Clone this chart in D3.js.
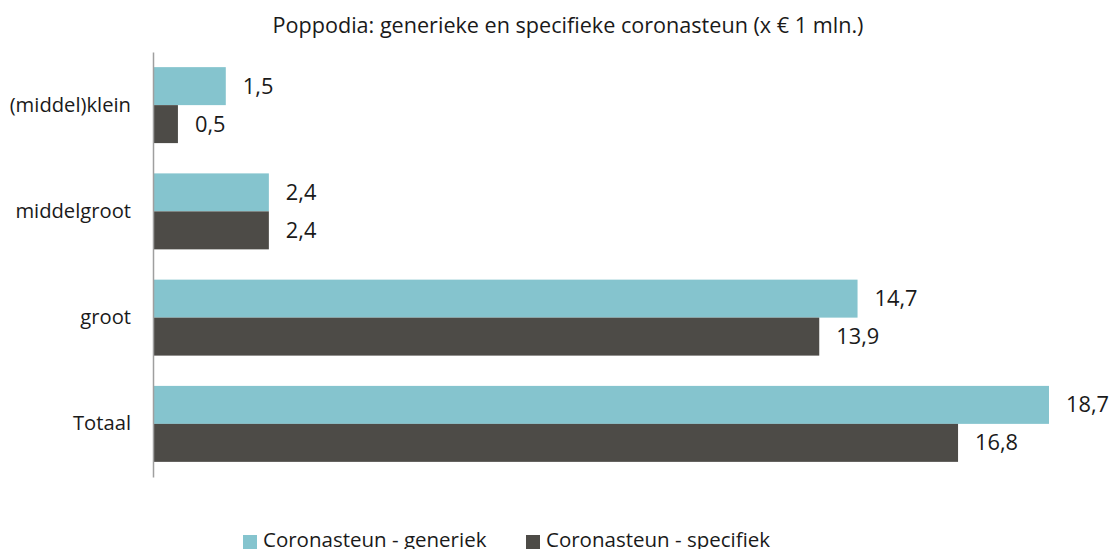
<!DOCTYPE html>
<html>
<head>
<meta charset="utf-8">
<script src="https://cdn.jsdelivr.net/npm/d3@7"></script>
<style>
  html, body { margin: 0; padding: 0; background: #fff; }
  svg { display: block; font-family: "Open Sans", Lato, sans-serif; }
</style>
</head>
<body>
<svg id="chart" width="1110" height="549"></svg>
<script>
const categories = ["(middel)klein", "middelgroot", "groot", "Totaal"];
const seriesNames = ["Coronasteun - generiek", "Coronasteun - specifiek"];
const generiek = [1.5, 2.4, 14.7, 18.7];
const specifiek = [0.5, 2.4, 13.9, 16.8];
const seriesColors = ["#85C4CE", "#4D4B47"];
const title = "Poppodia: generieke en specifieke coronasteun (x € 1 mln.)";

const FONT = "\"Open Sans\", Lato, sans-serif";
const TEXT = "#1a1a1a";

const svg = d3.select("#chart");
const fmt = v => d3.format(".1f")(v).replace(".", ",");

const x = d3.scaleLinear().domain([0, 20]).range([154, 154 + 47.86 * 20]);
const y = d3.scaleBand().domain(categories).range([52, 477]).paddingInner(0.285).paddingOuter(0.1425);
const inner = d3.scaleBand().domain([0, 1]).range([0, y.bandwidth()]);

const rows = categories.map((c, i) => ({ cat: c, vals: [generiek[i], specifiek[i]] }));

svg.append("text")
  .attr("x", 568).attr("y", 33)
  .attr("text-anchor", "middle")
  .attr("font-size", 21.6)
  .attr("fill", TEXT)
  .text(title);

const groups = svg.selectAll("g.row").data(rows).join("g")
  .attr("class", "row")
  .attr("transform", d => `translate(0,${y(d.cat)})`);

groups.selectAll("rect").data(d => d.vals).join("rect")
  .attr("x", x(0))
  .attr("y", (d, i) => inner(i))
  .attr("width", d => x(d) - x(0))
  .attr("height", inner.bandwidth())
  .attr("fill", (d, i) => seriesColors[i]);

groups.selectAll("text.val").data(d => d.vals).join("text")
  .attr("class", "val")
  .attr("x", d => x(d) + 17)
  .attr("y", (d, i) => inner(i) + inner.bandwidth() / 2 + 7.5)
  .attr("font-size", 21.8)
  .attr("fill", TEXT)
  .text(d => fmt(d));

// category axis
const axis = svg.append("g").attr("transform", `translate(${x(0) - 1},0)`)
  .call(d3.axisLeft(y).tickSize(0).tickPadding(22));
axis.select(".domain").attr("stroke", "#9f9f9f").attr("stroke-width", 1.5);
axis.selectAll(".tick text")
  .attr("dy", null)
  .attr("y", 6.5)
  .attr("font-size", 20.2)
  .attr("font-family", FONT)
  .attr("fill", TEXT);

// legend
const legendX = [243, 526];
const legend = svg.selectAll("g.legend").data(seriesNames).join("g")
  .attr("class", "legend")
  .attr("transform", (d, i) => `translate(${legendX[i]},535)`);
legend.append("rect").attr("width", 14).attr("height", 14)
  .attr("fill", (d, i) => seriesColors[i]);
legend.append("text")
  .attr("x", 20).attr("y", 12)
  .attr("font-size", 20.5)
  .attr("fill", TEXT)
  .text(d => d);
</script>
</body>
</html>
